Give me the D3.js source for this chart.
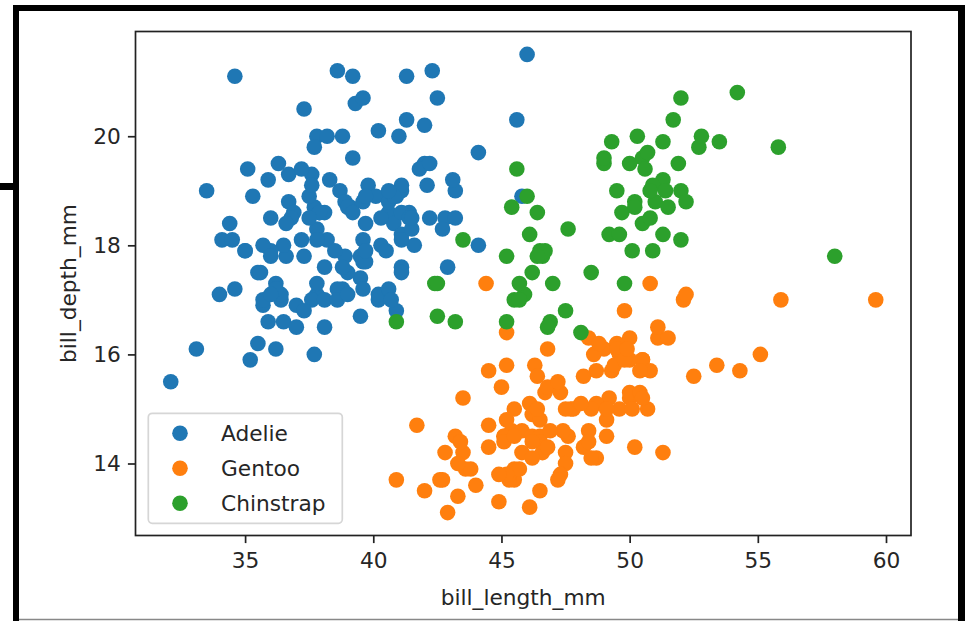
<!DOCTYPE html>
<html>
<head>
<meta charset="utf-8">
<script src="https://cdn.jsdelivr.net/npm/d3@7"></script>
<style>
  body { margin: 0; background: #fff; }
  svg { display: block; }
</style>
</head>
<body>
<script>
// [bill_length_mm, bill_depth_mm] per species
const adelie = [
  [39.1,18.7],[39.5,17.4],[40.3,18.0],[36.7,19.3],[39.3,20.6],[38.9,17.8],[39.2,19.6],[34.1,18.1],[42.0,20.2],[37.8,17.1],
  [37.8,17.3],[41.1,17.6],[38.6,21.2],[34.6,21.1],[36.6,17.8],[38.7,19.0],[42.5,20.7],[34.4,18.4],[46.0,21.5],[37.8,18.3],
  [37.7,18.7],[35.9,19.2],[38.2,18.1],[38.8,17.2],[35.3,18.9],[40.6,18.6],[40.5,17.9],[37.9,18.6],[40.5,18.9],[39.5,16.7],
  [37.2,18.1],[39.5,17.8],[40.9,18.9],[36.4,17.0],[39.2,21.1],[38.8,20.0],[42.2,18.5],[37.6,19.3],[39.8,19.1],[36.5,18.0],
  [40.8,18.4],[36.0,18.5],[44.1,19.7],[37.0,16.9],[39.6,18.8],[41.1,19.0],[37.5,18.9],[36.0,17.9],[42.3,21.2],[39.6,17.7],
  [40.1,18.9],[35.0,17.9],[42.0,19.5],[34.5,18.1],[41.4,18.6],[39.0,17.5],[40.6,18.8],[36.5,16.6],[37.6,19.1],[35.7,16.9],
  [41.3,21.1],[37.6,17.0],[41.1,18.2],[36.4,17.1],[41.6,18.0],[35.5,16.2],[41.1,19.1],[35.9,16.6],[41.8,19.4],[33.5,19.0],
  [39.7,18.4],[39.6,17.2],[45.8,18.9],[35.5,17.5],[42.8,18.5],[40.9,16.8],[37.2,19.4],[36.2,16.1],[42.1,19.1],[34.6,17.2],
  [42.9,17.6],[36.7,18.8],[35.1,19.4],[37.3,17.8],[41.3,20.3],[36.3,19.5],[36.9,18.6],[38.3,19.2],[38.9,18.8],[35.7,18.0],
  [41.1,18.1],[34.0,17.1],[39.6,18.1],[36.2,17.3],[40.8,18.9],[38.1,18.6],[40.3,18.5],[33.1,16.1],[43.2,18.5],[35.0,17.9],
  [41.0,20.0],[37.7,16.0],[37.8,20.0],[37.9,18.6],[39.7,18.9],[38.6,17.2],[38.2,20.0],[38.1,17.0],[43.2,19.0],[38.1,16.5],
  [45.6,20.3],[39.7,17.7],[42.2,19.5],[39.6,20.7],[42.7,18.3],[38.6,17.0],[37.3,20.5],[35.7,17.0],[41.1,18.6],[36.2,17.2],
  [37.7,19.8],[40.2,17.0],[41.4,18.5],[35.2,15.9],[40.6,19.0],[38.8,17.6],[41.5,18.3],[39.0,17.1],[44.1,18.0],[38.5,17.9],
  [43.1,19.2],[36.8,18.5],[37.5,18.5],[38.1,17.6],[41.1,17.5],[35.6,17.5],[40.2,20.1],[37.0,16.5],[39.7,17.9],[40.2,17.1],
  [40.6,17.2],[32.1,15.5],[40.7,17.0],[37.3,16.8],[39.0,18.7],[39.2,18.6],[36.6,18.4],[36.0,17.8],[37.8,18.1],[36.0,17.1],
  [41.5,18.5]
];

const gentoo = [
  [46.1,13.2],[50.0,16.3],[48.7,14.1],[50.0,15.2],[47.6,14.5],[46.5,13.5],[45.4,14.6],[46.7,15.3],[43.3,13.4],[46.8,15.4],
  [40.9,13.7],[49.0,16.1],[45.5,13.7],[48.4,14.6],[45.8,14.6],[49.3,15.7],[42.0,13.5],[49.2,15.2],[46.2,14.5],[48.7,15.1],
  [50.2,14.3],[45.1,14.5],[46.5,14.5],[46.3,15.8],[42.9,13.1],[46.1,15.1],[44.5,14.3],[47.8,15.0],[48.2,14.3],[50.0,15.3],
  [47.3,15.3],[42.8,14.2],[45.1,14.5],[59.6,17.0],[49.1,14.8],[48.4,16.3],[42.6,13.7],[44.4,17.3],[44.0,13.6],[48.7,15.7],
  [42.7,13.7],[49.6,16.0],[45.3,13.7],[49.6,15.0],[50.5,15.9],[43.6,13.9],[45.5,13.9],[50.5,15.9],[44.9,13.3],[45.2,15.8],
  [46.6,14.2],[48.5,14.1],[45.1,14.4],[50.1,15.0],[46.5,14.4],[45.0,15.4],[43.8,13.9],[45.5,15.0],[43.2,14.5],[50.4,15.3],
  [45.3,13.8],[46.2,14.9],[45.7,13.9],[54.3,15.7],[45.8,14.2],[49.8,16.8],[46.2,14.4],[49.5,16.2],[43.5,14.2],[50.7,15.0],
  [47.7,15.0],[46.4,15.6],[48.2,15.6],[46.5,14.8],[46.4,15.0],[48.6,16.0],[47.5,14.2],[51.1,16.3],[45.2,13.8],[45.2,16.4],
  [49.1,14.5],[52.5,15.6],[47.4,14.6],[50.0,15.9],[44.9,13.8],[50.8,17.3],[43.4,14.4],[51.3,14.2],[47.5,14.0],[52.1,17.0],
  [47.5,15.0],[52.2,17.1],[45.5,14.5],[49.5,16.1],[44.5,14.7],[50.8,15.7],[49.4,15.8],[46.9,14.6],[48.4,14.4],[51.1,16.5],
  [48.5,15.0],[55.9,17.0],[47.2,15.5],[49.1,15.0],[47.3,13.8],[46.8,16.1],[41.7,14.7],[53.4,15.8],[43.3,14.0],[48.1,15.1],
  [50.5,15.2],[49.8,15.9],[43.5,15.2],[51.5,16.3],[46.2,14.1],[55.1,16.0],[44.5,15.7],[48.8,16.2],[47.2,13.7],[46.8,14.3],
  [50.4,15.7],[45.2,14.8],[49.9,16.1]
];

const chinstrap = [
  [46.5,17.9],[50.0,19.5],[51.3,19.2],[45.4,18.7],[52.7,19.8],[45.2,17.8],[46.1,18.2],[51.3,18.2],[46.0,18.9],[51.3,19.9],
  [46.6,17.8],[51.7,20.3],[47.0,17.3],[52.0,18.1],[45.9,17.1],[50.5,19.6],[50.3,20.0],[58.0,17.8],[46.4,18.6],[49.2,18.2],
  [42.4,17.3],[48.5,17.5],[43.2,16.6],[50.6,19.4],[46.7,17.9],[52.0,19.0],[50.5,18.4],[49.5,19.0],[46.4,17.8],[52.8,20.0],
  [40.9,16.6],[54.2,20.8],[42.5,16.7],[51.0,18.8],[49.7,18.6],[47.5,16.8],[47.6,18.3],[52.0,20.7],[46.9,16.6],[53.5,19.9],
  [49.0,19.5],[46.2,17.5],[50.9,19.1],[45.5,17.0],[50.9,17.9],[50.8,18.5],[50.1,17.9],[49.0,19.6],[51.5,18.7],[49.8,17.3],
  [48.1,16.4],[51.4,19.0],[45.7,17.3],[50.7,19.7],[42.5,17.3],[52.2,18.8],[45.2,16.6],[49.3,19.9],[50.2,18.8],[45.6,19.4],
  [51.9,19.5],[46.8,16.5],[45.7,17.0],[55.8,19.8],[43.5,18.1],[49.6,18.2],[50.8,19.0],[50.2,18.7]
];

const species = ["Adelie", "Gentoo", "Chinstrap"];
const speciesColors = ["#1f77b4", "#ff7f0e", "#2ca02c"];
const xTicks = [35, 40, 45, 50, 55, 60];
const yTicks = [14, 16, 18, 20];

const groups = [adelie, gentoo, chinstrap];
const all = groups.flat();

const W = 965, H = 621;
const plot = { left: 135.5, right: 911, top: 31.5, bottom: 535.5 };
const fontFamily = "'DejaVu Sans', sans-serif";
const fs = 21.7;

function padded(ext) {
  const m = (ext[1] - ext[0]) * 0.05;
  return [ext[0] - m, ext[1] + m];
}

const x = d3.scaleLinear()
  .domain(padded(d3.extent(all, d => d[0])))
  .range([plot.left, plot.right]);

const y = d3.scaleLinear()
  .domain(padded(d3.extent(all, d => d[1])))
  .range([plot.bottom, plot.top]);

const svg = d3.select("body").append("svg")
  .attr("width", W)
  .attr("height", H);

svg.append("rect").attr("width", W).attr("height", H).attr("fill", "#fff");

// outer black frame of the screenshot
const frame = svg.append("g").attr("fill", "#000");
frame.append("rect").attr("x", 13).attr("y", 5).attr("width", W - 13).attr("height", 6);
frame.append("rect").attr("x", 13).attr("y", 5).attr("width", 6).attr("height", H - 5);
frame.append("rect").attr("x", 958).attr("y", 5).attr("width", 7).attr("height", H - 5);
frame.append("rect").attr("x", 0).attr("y", 183).attr("width", 16).attr("height", 7);
svg.append("line")
  .attr("x1", 19).attr("x2", 958)
  .attr("y1", 619.5).attr("y2", 619.5)
  .attr("stroke", "#888").attr("stroke-width", 1.5);

// points
groups.forEach((g, i) => {
  svg.append("g")
    .selectAll("circle")
    .data(g)
    .join("circle")
    .attr("cx", d => x(d[0]))
    .attr("cy", d => y(d[1]))
    .attr("r", 7.8)
    .attr("fill", speciesColors[i]);
});

// axes
const xAxis = d3.axisBottom(x).tickValues(xTicks).tickSize(7.6).tickPadding(9);
const yAxis = d3.axisLeft(y).tickValues(yTicks).tickSize(7.6).tickPadding(7);

const gx = svg.append("g")
  .attr("transform", "translate(0," + plot.bottom + ")")
  .call(xAxis);
const gy = svg.append("g")
  .attr("transform", "translate(" + plot.left + ",0)")
  .call(yAxis);

[gx, gy].forEach(g => {
  g.select(".domain").remove();
  g.selectAll("line").attr("stroke", "#222").attr("stroke-width", 1.7);
  g.selectAll("text")
    .attr("fill", "#262626")
    .style("font-family", fontFamily)
    .style("font-size", fs + "px");
});

svg.append("rect")
  .attr("x", plot.left).attr("y", plot.top)
  .attr("width", plot.right - plot.left)
  .attr("height", plot.bottom - plot.top)
  .attr("fill", "none")
  .attr("stroke", "#222")
  .attr("stroke-width", 1.7);

// axis labels
svg.append("text")
  .attr("x", (plot.left + plot.right) / 2)
  .attr("y", 605)
  .attr("text-anchor", "middle")
  .attr("fill", "#262626")
  .style("font-family", fontFamily)
  .style("font-size", fs + "px")
  .text("bill_length_mm");

svg.append("text")
  .attr("transform", "translate(76," + ((plot.top + plot.bottom) / 2) + ") rotate(-90)")
  .attr("text-anchor", "middle")
  .attr("fill", "#262626")
  .style("font-family", fontFamily)
  .style("font-size", fs + "px")
  .text("bill_depth_mm");

// legend
const legend = svg.append("g");
legend.append("rect")
  .attr("x", 148.3).attr("y", 413.3)
  .attr("width", 194).attr("height", 110)
  .attr("rx", 4)
  .attr("fill", "rgba(255,255,255,0.8)")
  .attr("stroke", "#d6d6d6")
  .attr("stroke-width", 1.7);

const items = legend.selectAll("g.item")
  .data(species)
  .join("g")
  .attr("class", "item")
  .attr("transform", (d, i) => "translate(0," + (433.3 + i * 35) + ")");

items.append("circle")
  .attr("cx", 180)
  .attr("r", 7.8)
  .attr("fill", (d, i) => speciesColors[i]);

items.append("text")
  .attr("x", 221)
  .attr("dy", "0.36em")
  .attr("fill", "#262626")
  .style("font-family", fontFamily)
  .style("font-size", fs + "px")
  .text(d => d);
</script>
</body>
</html>
